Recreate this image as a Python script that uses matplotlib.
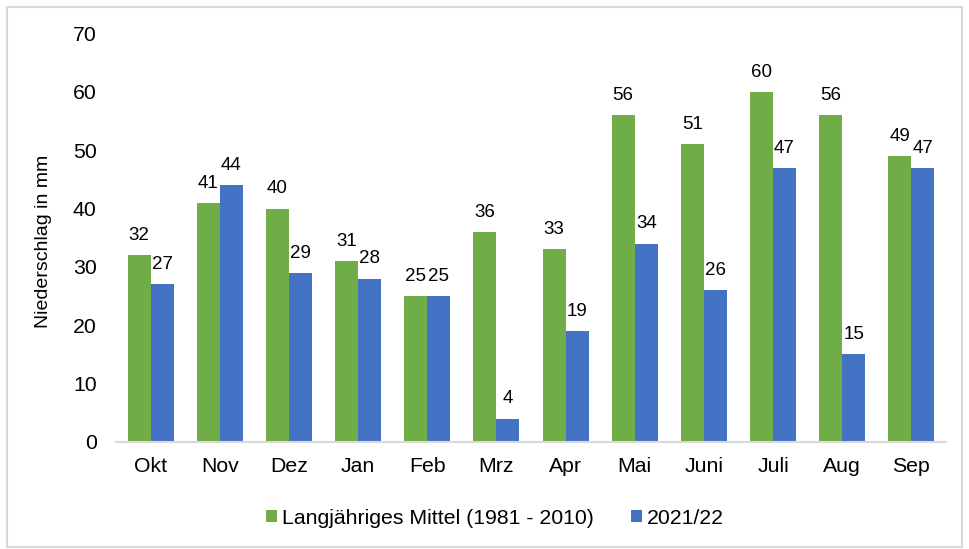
import numpy as np
import matplotlib.pyplot as plt
from matplotlib.patches import Rectangle

plt.rcParams['font.family'] = ['Liberation Sans', 'DejaVu Sans']

months = ['Okt', 'Nov', 'Dez', 'Jan', 'Feb', 'Mrz', 'Apr', 'Mai', 'Juni', 'Juli', 'Aug', 'Sep']
mittel = [32, 41, 40, 31, 25, 36, 33, 56, 51, 60, 56, 49]
jahr_2122 = [27, 44, 29, 28, 25, 4, 19, 34, 26, 47, 15, 47]

green = '#70AD47'
blue = '#4472C4'

fig = plt.figure(figsize=(9.69, 5.49), dpi=100)
ax = fig.add_axes([0.1197, 0.195, 0.8565, 0.744])

x = np.arange(len(months))
w = 0.333
b1 = ax.bar(x - w / 2, mittel, w, color=green, label='Langjähriges Mittel (1981 - 2010)')
b2 = ax.bar(x + w / 2, jahr_2122, w, color=blue, label='2021/22')

for bars in (b1, b2):
    for r in bars:
        ax.annotate(str(int(r.get_height())), (r.get_x() + r.get_width() / 2, r.get_height()),
                    xytext=(0, 8), textcoords='offset points', ha='center', va='bottom',
                    fontsize=13.5, color='#000000')

ax.set_xlim(-0.5, len(months) - 0.5)
ax.set_ylim(0, 70)
ax.set_yticks(range(0, 71, 10))
ax.set_xticks(x)
ax.set_xticklabels(months)
ax.tick_params(axis='both', length=0, labelsize=15.3, colors='#000000')
ax.tick_params(axis='x', pad=11)
ax.tick_params(axis='y', pad=14)
for s in ['top', 'right', 'left']:
    ax.spines[s].set_visible(False)
ax.spines['bottom'].set_color('#D9D9D9')
ax.spines['bottom'].set_linewidth(1.5)

fig.text(0.045, 0.561, 'Niederschlag in mm', rotation=90, ha='center', va='center', fontsize=14)

fig.legend(handles=[b1, b2], loc='center', bbox_to_anchor=(0.511, 0.056), ncol=2, frameon=False,
           fontsize=15.3, handlelength=0.5, handleheight=0.5, handletextpad=0.25, columnspacing=1.75,
           borderpad=0, borderaxespad=0)

fig.patches.append(Rectangle((0.007, 0.004), 0.986, 0.984, transform=fig.transFigure,
                             fill=False, edgecolor='#D9D9D9', linewidth=1.5))

fig.savefig('out.png', dpi=100)
